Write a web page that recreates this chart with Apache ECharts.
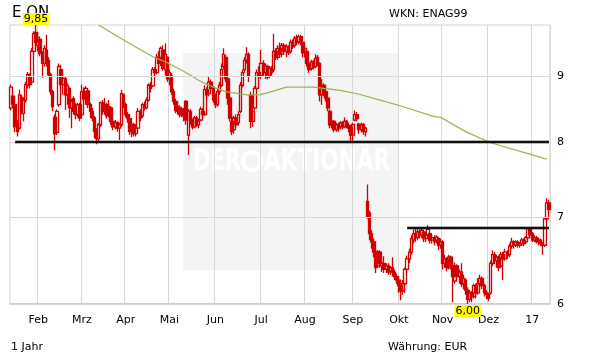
<!DOCTYPE html>
<html><head><meta charset="utf-8">
<script src="https://cdn.jsdelivr.net/npm/echarts@6/dist/echarts.min.js"></script>
<style>html,body{margin:0;padding:0;background:#fff}#c{width:611px;height:364px}</style>
</head><body><div id="c"></div>
<script>
// ---- trading calendar (Xetra) ----
const startDate = '2016-01-13';
const endDate = '2017-01-12';
const holidays = ['2016-03-25', '2016-03-28', '2016-12-26'];
const monthTicks = ['2016-02-01','2016-03-01','2016-04-01','2016-05-02','2016-06-01','2016-07-01','2016-08-01','2016-09-01','2016-10-03','2016-11-01','2016-12-01','2017-01-02'];
const monthLabels = ['Feb','Mrz','Apr','Mai','Jun','Jul','Aug','Sep','Okt','Nov','Dez','17'];
const yTicks = [6, 7, 8, 9];

// ---- OHLC: [open, close, low, high] ----
const ohlcJan16 = [
[8.50,8.82,8.46,8.86],[8.68,8.55,8.50,8.72],[8.55,8.22,8.14,8.58],[8.28,8.15,8.08,8.32],[8.20,8.70,8.18,8.78],
[8.66,8.45,8.40,8.70],[8.42,8.62,8.30,8.66],[8.62,8.86,8.58,8.90],[8.85,9.02,8.80,9.06],[8.98,8.86,8.80,9.04],
[8.90,9.40,8.88,9.45],[9.40,9.70,9.36,9.74],[9.72,9.55,9.45,9.85]];
const ohlcFeb16 = [
[9.50,9.64,9.40,9.72],[9.60,9.36,9.32,9.64],[9.36,9.20,8.97,9.40],[9.20,9.45,9.15,9.50],[9.42,9.25,9.15,9.68],
[9.25,9.02,8.98,9.30],[9.02,8.75,8.70,9.05],[8.75,8.52,8.45,8.78],[8.36,8.12,7.88,8.40],[8.14,8.45,8.10,8.48],
[8.55,9.15,8.52,9.20],[9.10,8.86,8.80,9.18],[8.86,8.96,8.70,9.05],[8.95,8.70,8.47,8.98],[8.70,8.84,8.55,8.88],
[8.80,8.50,8.35,8.82],[8.50,8.60,8.20,8.64],[8.64,8.45,8.40,8.68],[8.45,8.40,8.33,8.58],[8.40,8.55,8.36,8.58],
[8.55,8.35,8.30,8.58]];
const ohlcMar16 = [
[8.40,8.75,8.38,8.86],[8.75,8.64,8.60,8.82],[8.64,8.80,8.55,8.84],[8.76,8.55,8.50,8.78],[8.55,8.45,8.35,8.58],
[8.45,8.35,8.30,8.50],[8.35,8.15,8.05,8.38],[8.15,8.05,7.97,8.20],[8.05,8.25,8.00,8.28],[8.25,8.58,8.22,8.60],
[8.58,8.45,8.40,8.62],[8.45,8.55,8.40,8.65],[8.55,8.38,8.34,8.58],[8.40,8.52,8.36,8.62],[8.50,8.30,8.25,8.52],
[8.30,8.22,8.17,8.34],[8.22,8.28,8.18,8.32],[8.28,8.20,8.15,8.30],[8.20,8.25,8.03,8.28],[8.25,8.72,8.22,8.78],
[8.70,8.55,8.50,8.72]];
const ohlcApr16 = [
[8.55,8.40,8.36,8.58],[8.40,8.34,8.28,8.44],[8.34,8.15,8.10,8.36],[8.15,8.25,8.07,8.28],[8.25,8.12,8.08,8.28],
[8.12,8.20,8.08,8.24],[8.20,8.45,8.18,8.50],[8.45,8.35,8.30,8.48],[8.38,8.55,8.35,8.58],[8.55,8.50,8.46,8.60],
[8.50,8.62,8.48,8.66],[8.62,8.85,8.60,8.88],[8.85,8.80,8.74,8.90],[8.84,9.10,8.82,9.14],[9.10,9.05,9.00,9.14],
[9.05,9.30,9.02,9.36],[9.30,9.20,9.12,9.40],[9.20,9.45,9.16,9.48],[9.42,9.12,9.08,9.50],[9.10,9.35,9.00,9.53],
[9.30,8.95,8.90,9.32]];
const ohlcMay16 = [
[8.95,9.05,8.85,9.10],[9.00,8.75,8.70,9.04],[8.75,8.60,8.55,8.80],[8.60,8.46,8.42,8.64],[8.45,8.52,8.40,8.60],
[8.50,8.40,8.36,8.54],[8.40,8.48,8.36,8.52],[8.48,8.38,8.30,8.50],[8.60,8.32,8.25,8.62],[8.10,8.45,7.82,8.48],
[8.45,8.30,8.25,8.48],[8.30,8.22,8.18,8.34],[8.22,8.35,8.20,8.38],[8.35,8.25,8.22,8.38],[8.25,8.30,8.20,8.34],
[8.32,8.48,8.30,8.52],[8.45,8.40,8.35,8.50],[8.40,8.78,8.38,8.85],[8.78,8.70,8.64,8.82],[8.72,8.90,8.68,8.98],
[8.90,8.80,8.75,8.94],[8.80,8.62,8.58,8.84]];
const ohlcJun16 = [
[8.62,8.55,8.50,8.72],[8.55,8.75,8.52,8.80],[8.75,8.85,8.70,8.90],[8.85,9.10,8.82,9.20],[9.15,9.35,9.10,9.45],
[9.30,8.95,8.90,9.34],[8.95,8.65,8.55,8.98],[8.65,8.35,8.30,8.68],[8.30,8.15,8.10,8.40],[8.18,8.35,8.12,8.38],
[8.35,8.25,8.20,8.40],[8.28,8.40,8.24,8.45],[8.45,8.85,8.42,8.90],[8.85,9.05,8.82,9.10],[9.10,9.25,9.05,9.30],
[9.25,9.35,9.20,9.47],[9.35,9.00,8.90,9.38],[8.70,8.30,8.20,8.75],[8.30,8.45,8.22,8.50],[8.50,8.80,8.46,8.84],
[8.80,9.05,8.76,9.10],[9.05,9.00,8.95,9.15]];
const ohlcJul16 = [
[9.00,9.20,8.95,9.42],[9.20,9.05,9.00,9.25],[9.05,9.15,8.95,9.20],[9.15,8.98,8.94,9.18],[9.00,9.12,8.96,9.16],
[9.12,9.05,9.00,9.16],[9.10,9.40,9.06,9.70],[9.40,9.30,9.25,9.45],[9.30,9.45,9.26,9.50],[9.45,9.35,9.30,9.55],
[9.35,9.50,9.30,9.54],[9.50,9.40,9.35,9.54],[9.40,9.48,9.30,9.52],[9.45,9.38,9.34,9.50],[9.40,9.55,9.36,9.60],
[9.55,9.48,9.44,9.60],[9.50,9.62,9.46,9.66],[9.62,9.55,9.50,9.68],[9.56,9.65,9.52,9.68],[9.65,9.55,9.50,9.68],
[9.55,9.38,9.30,9.58]];
const ohlcAug16 = [
[9.38,9.45,9.30,9.50],[9.40,9.20,9.15,9.44],[9.20,9.10,9.05,9.24],[9.12,9.22,9.08,9.26],[9.22,9.15,9.10,9.26],
[9.15,9.28,9.12,9.35],[9.30,9.20,9.16,9.34],[9.20,8.70,8.60,9.22],[8.70,8.80,8.55,8.95],[8.85,8.72,8.68,8.88],
[8.75,8.65,8.60,8.78],[8.65,8.50,8.45,8.68],[8.45,8.25,8.20,8.48],[8.25,8.30,8.20,8.34],[8.30,8.18,8.14,8.32],
[8.18,8.25,8.15,8.28],[8.25,8.20,8.15,8.28],[8.22,8.28,8.18,8.30],[8.27,8.22,8.18,8.30],[8.22,8.30,8.20,8.36],
[8.30,8.24,8.20,8.32],[8.24,8.20,8.14,8.28],[8.22,8.10,8.00,8.24]];
const ohlcSep16 = [
[8.10,8.25,8.00,8.28],[8.32,8.40,8.30,8.46],[8.40,8.34,8.30,8.44],[8.26,8.18,8.12,8.28],[8.18,8.25,8.14,8.28],
[8.25,8.15,8.10,8.28],[8.15,8.20,8.08,8.22],[7.20,7.00,6.98,7.42],[7.05,6.80,6.72,7.08],[6.80,6.70,6.62,6.84],
[6.70,6.58,6.52,6.74],[6.58,6.40,6.34,6.62],[6.42,6.58,6.40,6.60],[6.58,6.45,6.40,6.60],[6.42,6.45,6.35,6.48],
[6.45,6.38,6.34,6.53],[6.38,6.42,6.34,6.45],[6.42,6.35,6.32,6.45],[6.36,6.40,6.32,6.42],[6.40,6.35,6.30,6.52],
[6.35,6.30,6.26,6.38],[6.30,6.26,6.22,6.33]];
const ohlcOct16 = [
[6.26,6.20,6.12,6.30],[6.20,6.14,6.04,6.24],[6.14,6.22,6.10,6.26],[6.22,6.38,6.12,6.40],[6.38,6.50,6.34,6.54],
[6.50,6.58,6.45,6.62],[6.58,6.74,6.55,6.78],[6.72,6.80,6.68,6.85],[6.80,6.75,6.70,6.87],[6.75,6.82,6.72,6.87],
[6.82,6.78,6.74,6.85],[6.78,6.84,6.75,6.86],[6.82,6.74,6.70,6.84],[6.74,6.78,6.70,6.80],[6.78,6.85,6.74,6.90],
[6.80,6.72,6.68,6.82],[6.72,6.75,6.68,6.78],[6.75,6.70,6.66,6.78],[6.72,6.76,6.68,6.78],[6.74,6.66,6.60,6.76],
[6.66,6.70,6.62,6.74]];
const ohlcNov16 = [
[6.70,6.45,6.38,6.72],[6.45,6.50,6.40,6.55],[6.50,6.40,6.36,6.52],[6.40,6.52,6.38,6.55],[6.52,6.42,6.38,6.54],
[6.42,6.30,6.02,6.45],[6.25,6.42,6.22,6.46],[6.42,6.30,6.26,6.44],[6.30,6.35,6.22,6.38],[6.35,6.22,6.18,6.45],
[6.22,6.28,6.16,6.32],[6.26,6.15,6.10,6.28],[6.15,6.05,6.00,6.18],[6.05,6.12,6.02,6.15],[6.12,6.08,6.02,6.14],
[6.08,6.20,6.06,6.22],[6.20,6.12,6.06,6.22],[6.12,6.22,6.10,6.28],[6.22,6.28,6.18,6.32],[6.28,6.20,6.16,6.30],
[6.20,6.12,6.08,6.22],[6.12,6.10,6.05,6.15]];
const ohlcDec16 = [
[6.10,6.06,6.03,6.12],[6.12,6.45,6.10,6.48],[6.45,6.55,6.42,6.60],[6.55,6.48,6.44,6.58],[6.48,6.52,6.40,6.55],
[6.52,6.40,6.36,6.54],[6.42,6.55,6.40,6.58],[6.55,6.50,6.26,6.58],[6.50,6.58,6.48,6.62],[6.58,6.54,6.50,6.60],
[6.55,6.65,6.52,6.68],[6.65,6.70,6.62,6.75],[6.70,6.66,6.62,6.72],[6.66,6.70,6.64,6.72],[6.70,6.66,6.63,6.72],
[6.66,6.68,6.63,6.70],[6.68,6.72,6.65,6.75],[6.72,6.68,6.65,6.74],[6.70,6.75,6.68,6.77],[6.75,6.86,6.72,6.88],
[6.86,6.78,6.74,6.88]];
const ohlcJan17 = [
[6.80,6.72,6.70,6.82],[6.72,6.75,6.70,6.78],[6.75,6.70,6.68,6.77],[6.70,6.72,6.66,6.75],[6.72,6.68,6.65,6.74],
[6.68,6.66,6.55,6.70],[6.66,6.98,6.64,7.00],[6.98,7.18,6.95,7.24],[7.18,7.10,7.05,7.22]];

// ---- moving average, read at these day indices ----
const maIndex  = [42, 55, 68, 75, 83, 91, 97, 103, 113, 119, 123, 129, 132, 145, 150, 158, 167, 177, 187, 203, 206, 218, 230, 250, 257];
const maValues = [9.85,9.57,9.31,9.21,9.07,8.91,8.82,8.75,8.70,8.70,8.73,8.79,8.82,8.82,8.80,8.77,8.71,8.62,8.53,8.37,8.36,8.15,7.99,7.82,7.76];

// ---- horizontal lines & annotations ----
const supportLevel = 8.0, supportStartIdx = 2;
const resistLevel = 6.87, resistStartIdx = 190;
const highMark = {idx: 12, value: 9.85, text: '9,85'};
const lowMark = {idx: 219, value: 6.00, text: '6,00'};

// build categories
const dates = [];
(function(){
  const d = new Date(startDate + 'T00:00:00Z'), e = new Date(endDate + 'T00:00:00Z');
  while (d <= e) {
    const wd = d.getUTCDay(), s = d.toISOString().slice(0,10);
    if (wd !== 0 && wd !== 6 && holidays.indexOf(s) < 0) dates.push(s);
    d.setUTCDate(d.getUTCDate() + 1);
  }
})();
const ohlc = [].concat(ohlcJan16, ohlcFeb16, ohlcMar16, ohlcApr16, ohlcMay16, ohlcJun16, ohlcJul16, ohlcAug16, ohlcSep16, ohlcOct16, ohlcNov16, ohlcDec16, ohlcJan17);
const maData = dates.map(() => null);
maIndex.forEach((k, j) => { maData[k] = maValues[j]; });
const lastIdx = dates.length - 1;
const isMonth = (i, v) => monthTicks.indexOf(dates[i]) >= 0;
const FONT = 'DejaVu Sans, Verdana, sans-serif';
const WMFONT = 'bold 30px "DejaVu Sans", sans-serif';
const RED = '#d20000';

const chart = echarts.init(document.getElementById('c'), null, {renderer: 'canvas'});
chart.setOption({
  animation: false,
  backgroundColor: '#ffffff',
  grid: {left: 10, right: 61, top: 25, bottom: 60, show: true, borderColor: '#d4d4d4', borderWidth: 1, backgroundColor: 'transparent'},
  xAxis: {
    type: 'category', data: dates, boundaryGap: true,
    axisLine: {show: true, lineStyle: {color: '#cfcfcf', width: 2}},
    axisTick: {show: false, interval: isMonth},
    axisLabel: {interval: isMonth, formatter: v => monthLabels[monthTicks.indexOf(v)], color: '#000', fontSize: 11, fontFamily: FONT, margin: 11},
    splitLine: {show: true, interval: isMonth, lineStyle: {color: '#d8d8d8', width: 1}}
  },
  yAxis: {
    type: 'log', min: 6, max: 9.85,
    axisLine: {show: false}, axisTick: {show: false}, axisLabel: {show: false}, splitLine: {show: false}
  },
  graphic: {elements: [
    {type: 'rect', z: -10, shape: {x: 183, y: 53, width: 215, height: 217}, style: {fill: '#f4f4f4'}},
    {type: 'text', z: -9, x: 193, y: 162, scaleX: 0.7, style: {text: 'DER', fill: '#ffffff', font: WMFONT, textVerticalAlign: 'middle'}},
    {type: 'circle', z: -9, shape: {cx: 252, cy: 161, r: 9}, style: {fill: 'none', stroke: '#ffffff', lineWidth: 4}},
    {type: 'text', z: -9, x: 264, y: 162, scaleX: 0.72, style: {text: 'AKTIONÄR', fill: '#ffffff', font: WMFONT, textVerticalAlign: 'middle'}},
    {type: 'text', x: 12, y: 13, style: {text: 'E.ON', fill: '#000', font: '15px ' + FONT, textVerticalAlign: 'middle'}},
    {type: 'text', x: 389, y: 14, style: {text: 'WKN: ENAG99', fill: '#000', font: '11px ' + FONT, textVerticalAlign: 'middle'}},
    {type: 'text', x: 11, y: 347, style: {text: '1 Jahr', fill: '#000', font: '11px ' + FONT, textVerticalAlign: 'middle'}},
    {type: 'text', x: 388, y: 347, style: {text: 'Währung: EUR', fill: '#000', font: '11px ' + FONT, textVerticalAlign: 'middle'}}
  ]},
  series: [
    {
      type: 'line', data: [], z: 1, silent: true,
      markLine: {
        silent: true, symbol: ['none', 'none'],
        lineStyle: {color: '#d8d8d8', width: 1, type: 'solid'},
        label: {show: true, position: 'end', distance: 7, color: '#000', fontSize: 11, fontFamily: FONT, formatter: p => String(p.value)},
        data: yTicks.map(v => ({yAxis: v}))
      }
    },
    {
      type: 'candlestick', data: ohlc, z: 2, barWidth: 3,
      itemStyle: {color: 'rgba(255,255,255,0)', color0: RED, borderColor: RED, borderColor0: RED, borderWidth: 1.3},
      markPoint: {
        symbol: 'rect', symbolSize: 0, silent: true,
        data: [
          {coord: [highMark.idx, highMark.value], label: {show: true, position: 'top', distance: 0, formatter: highMark.text, backgroundColor: '#ffff00', color: '#000', fontSize: 11, fontFamily: FONT, padding: [1, 1, 0, 1], lineHeight: 11}},
          {coord: [lowMark.idx, lowMark.value], label: {show: true, position: 'bottom', distance: 1, formatter: lowMark.text, backgroundColor: '#ffff00', color: '#000', fontSize: 11, fontFamily: FONT, padding: [1, 1, 0, 1], lineHeight: 11}}
        ]
      }
    },
    {
      type: 'line', data: maData, connectNulls: true, showSymbol: false, z: 3, silent: true,
      lineStyle: {color: '#95b84a', width: 1.2}
    },
    {
      type: 'line', data: [], z: 4, silent: true,
      markLine: {
        silent: true, symbol: ['none', 'none'], label: {show: false},
        data: [
          [{coord: [supportStartIdx, supportLevel], lineStyle: {color: 'rgba(0,0,0,0.28)', width: 4, type: 'solid'}}, {coord: [lastIdx, supportLevel]}],
          [{coord: [supportStartIdx, supportLevel], lineStyle: {color: '#111', width: 2, type: 'solid'}}, {coord: [lastIdx, supportLevel]}],
          [{coord: [resistStartIdx, resistLevel], lineStyle: {color: 'rgba(0,0,0,0.28)', width: 4, type: 'solid'}}, {coord: [lastIdx, resistLevel]}],
          [{coord: [resistStartIdx, resistLevel], lineStyle: {color: '#111', width: 2, type: 'solid'}}, {coord: [lastIdx, resistLevel]}]
        ]
      }
    }
  ]
});
</script>
</body></html>
